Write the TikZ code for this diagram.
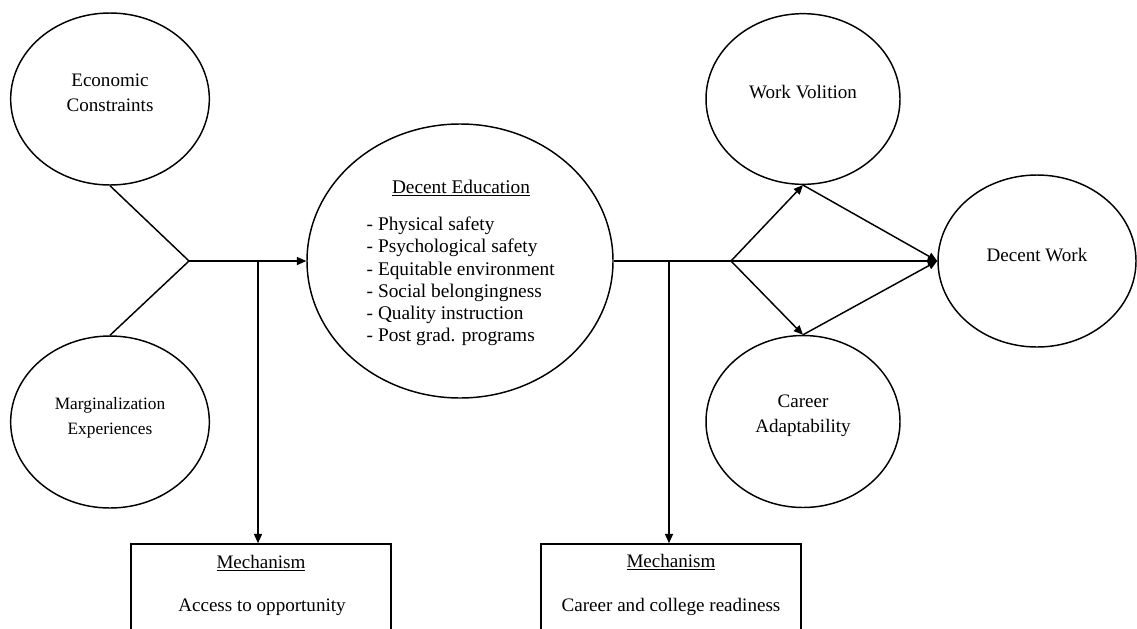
\documentclass[tikz,border=0pt]{standalone}
\usepackage{fontspec}
\setmainfont{Liberation Serif}
\usetikzlibrary{arrows.meta,shapes.geometric}
\begin{document}
\begin{tikzpicture}[x=0.75pt,y=-0.75pt,
  line width=1.1pt,
  ell/.style={draw, ellipse, inner sep=0pt},
  lab/.style={align=center, font=\fontsize{14.3}{18.4}\selectfont, inner sep=0pt},
  mbox/.style={draw, rectangle, minimum width=195pt, minimum height=87pt, inner sep=0pt},
  arr/.style={-{Triangle[length=7pt,width=6pt]}}
]
\useasboundingbox (0,0) rectangle (1137,628);
\clip (0,0) rectangle (1137,628);
\fill[white] (0,0) rectangle (1137,628);

% ellipses
\node[ell, minimum width=149pt, minimum height=129pt] (ec) at (110,99) {};
\node[ell, minimum width=149pt, minimum height=129pt] (mg) at (110,422) {};
\node[ell, minimum width=229.5pt, minimum height=205.5pt] (de) at (460,261) {};
\node[ell, minimum width=145.5pt, minimum height=128pt] (wv) at (803,99) {};
\node[ell, minimum width=145.5pt, minimum height=129pt] (ca) at (803,421.5) {};
\node[ell, minimum width=148.5pt, minimum height=129pt] (dw) at (1037,261) {};

% ellipse labels
\node[lab] (ect) at (110,93) {Economic\\Constraints};
\node[lab, font=\fontsize{13}{18.4}\selectfont] (mgt) at (110,418) {Marginalization\\Experiences};
\node[lab] (wvt) at (803,92) {Work Volition};
\node[lab] (cat) at (803,416) {Career\\Adaptability};
\node[lab] (dwt) at (1037,255) {Decent Work};
\node[lab, font=\fontsize{14.5}{16.65}\selectfont] (det) at (461,188) {\underline{Decent Education}};
\node[lab, align=left, font=\fontsize{14.5}{16.65}\selectfont, anchor=west] (del) at (366,281.5)
  {- Physical safety\\- Psychological safety\\- Equitable environment\\- Social belongingness\\- Quality instruction\\- Post grad. programs};

% mechanism boxes
\node[mbox] (m1) at (261,602) {};
\node[mbox] (m2) at (671,602) {};
\node[lab] (m1a) at (261,563) {\underline{Mechanism}};
\node[lab] (m1b) at (262,607) {Access to opportunity};
\node[lab] (m2a) at (671,562) {\underline{Mechanism}};
\node[lab] (m2b) at (671,607) {Career and college readiness};

% junctions
\coordinate (j1) at (189,261);
\coordinate (t1) at (258,261);
\coordinate (t2) at (669,261);
\coordinate (j2) at (731,261);

% connectors
\draw (ec.south) -- (j1);
\draw (mg.north) -- (j1);
\draw[arr] (j1) -- (de.west);
\draw[arr] (t1) -- (t1 |- m1.north);
\draw (de.east) -- (j2);
\draw[arr] (t2) -- (t2 |- m2.north);
\draw[arr] (j2) -- (wv.south);
\draw[arr] (j2) -- (ca.north);
\draw[arr] (j2) -- (dw.west);
\draw[arr] (wv.south) -- (dw.west);
\draw[arr] (ca.north) -- (dw.west);
\end{tikzpicture}
\end{document}
